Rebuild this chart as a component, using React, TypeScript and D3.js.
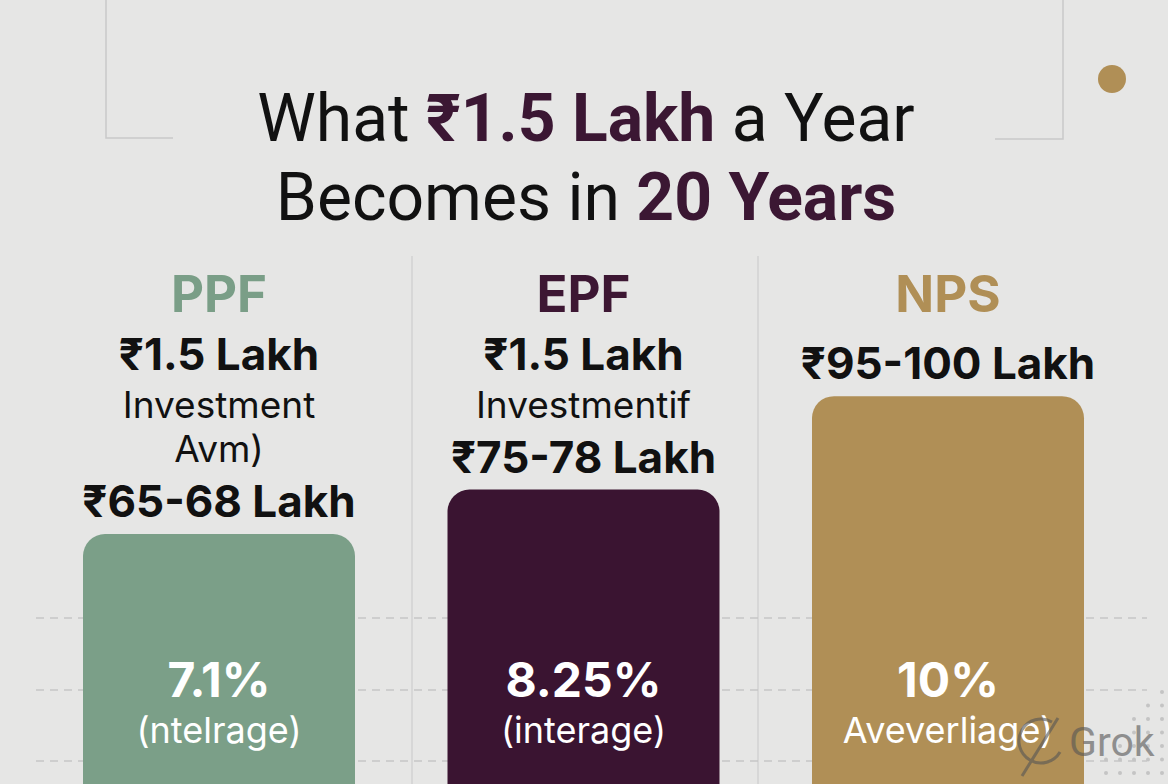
import React from "react";
import * as d3 from "d3";

const categories = ["PPF", "EPF", "NPS"];
const lowLakh = [65, 75, 95];
const highLakh = [68, 78, 100];
const investedLines = [
  ["₹1.5 Lakh", "Investment", "Avm)"],
  ["₹1.5 Lakh", "Investmentif"],
  [],
];
const rates = ["7.1%", "8.25%", "10%"];
const rateNotes = ["(ntelrage)", "(interage)", "Aveverliage)"];
const titleLine1 = [
  { t: "What ", b: false },
  { t: "₹1.5 Lakh", b: true },
  { t: " a Year", b: false },
];
const titleLine2 = [
  { t: "Becomes in ", b: false },
  { t: "20 Years", b: true },
];

const W = 1168;
const H = 784;
const colors = ["#7b9f88", "#3a1431", "#b08f56"];
const headColors = ["#7a9e87", "#3d1733", "#b08f56"];
const BG = "#e6e6e5";
const PURPLE = "#3b1733";
const FONT = "Inter, Roboto, 'Noto Sans', sans-serif";
const TFONT = "Roboto, Inter, sans-serif";

export default function App() {
  const x = d3.scalePoint<string>().domain(categories).range([219, 948]);
  const y = d3.scaleLinear().domain([0, 100]).range([830, 385]);
  const barW = 272;
  const gridYs = [618, 690, 761];
  const lineYs = [370, 418, 462];

  const dots: { cx: number; cy: number }[] = [];
  for (let c = 0; c < 5; c++) {
    for (let r = 0; r < 7; r++) {
      if (r >= (4 - c) * 1.5 - 1) dots.push({ cx: 1106 + c * 14, cy: 692 + r * 13.5 });
    }
  }

  return (
    <svg
      width={W}
      height={H}
      style={{ position: "absolute", left: 0, top: 0, display: "block" }}
    >
      <rect x={0} y={0} width={W} height={H} fill={BG} />
      <g stroke="#c9c9c9" strokeWidth={1.5} fill="none">
        <path d="M106,0 V138 H173" />
        <path d="M1063,0 V139 H995" />
        <line x1={412} y1={256} x2={412} y2={H} stroke="#d2d2d2" />
        <line x1={758} y1={256} x2={758} y2={H} stroke="#d2d2d2" />
      </g>
      <circle cx={1112} cy={79} r={14} fill="#b08f56" />
      <text x={586} y={141} textAnchor="middle" fontFamily={TFONT} fontSize={66} fill="#111">
        {titleLine1.map((s, i) => (
          <tspan key={i} fontWeight={s.b ? 700 : 400} fill={s.b ? PURPLE : "#111"}>
            {s.t}
          </tspan>
        ))}
      </text>
      <text x={586} y={220} textAnchor="middle" fontFamily={TFONT} fontSize={66} fill="#111">
        {titleLine2.map((s, i) => (
          <tspan key={i} fontWeight={s.b ? 700 : 400} fill={s.b ? PURPLE : "#111"}>
            {s.t}
          </tspan>
        ))}
      </text>
      <g stroke="#c6c6c6" strokeWidth={1.5} strokeDasharray="8,6">
        {gridYs.map((gy) => (
          <line key={gy} x1={36} x2={1147} y1={gy} y2={gy} />
        ))}
      </g>
      <g fill="#c4c4c4">
        {dots.map((d, i) => (
          <circle key={i} cx={d.cx} cy={d.cy} r={2} />
        ))}
      </g>
      {categories.map((c, i) => {
        const cx = x(c) as number;
        const mid = (lowLakh[i] + highLakh[i]) / 2;
        const top = y(mid);
        return (
          <g key={c}>
            <text x={cx} y={312} textAnchor="middle" fontFamily={FONT} fontWeight={700} fontSize={51} fill={headColors[i]}>
              {c}
            </text>
            {investedLines[i].map((l, j) => (
              <text
                key={j}
                x={cx}
                y={lineYs[j]}
                textAnchor="middle"
                fontFamily={FONT}
                fontWeight={j === 0 ? 700 : 400}
                fontSize={j === 0 ? 44 : 37}
                fill="#111"
              >
                {l}
              </text>
            ))}
            <text x={cx} y={top - 17} textAnchor="middle" fontFamily={FONT} fontWeight={700} fontSize={44} fill="#111">
              ₹{lowLakh[i]}-{highLakh[i]} Lakh
            </text>
            <rect x={cx - barW / 2} y={top} width={barW} height={H - top + 40} rx={22} fill={colors[i]} />
            <text x={cx} y={697} textAnchor="middle" fontFamily={FONT} fontWeight={700} fontSize={48} fill="#fff">
              {rates[i]}
            </text>
            <text x={cx} y={743} textAnchor="middle" fontFamily={FONT} fontWeight={400} fontSize={36} fill="#fff">
              {rateNotes[i]}
            </text>
          </g>
        );
      })}
      <g opacity={0.6}>
        <path d="M1052,722 A22,22 0 1,0 1060,752" fill="none" stroke="#555" strokeWidth={3} />
        <line x1={1022} y1={776} x2={1058} y2={718} stroke="#555" strokeWidth={3} />
        <text x={1069} y={756} fontFamily={TFONT} fontSize={41} fill="#555">
          Grok
        </text>
      </g>
    </svg>
  );
}
